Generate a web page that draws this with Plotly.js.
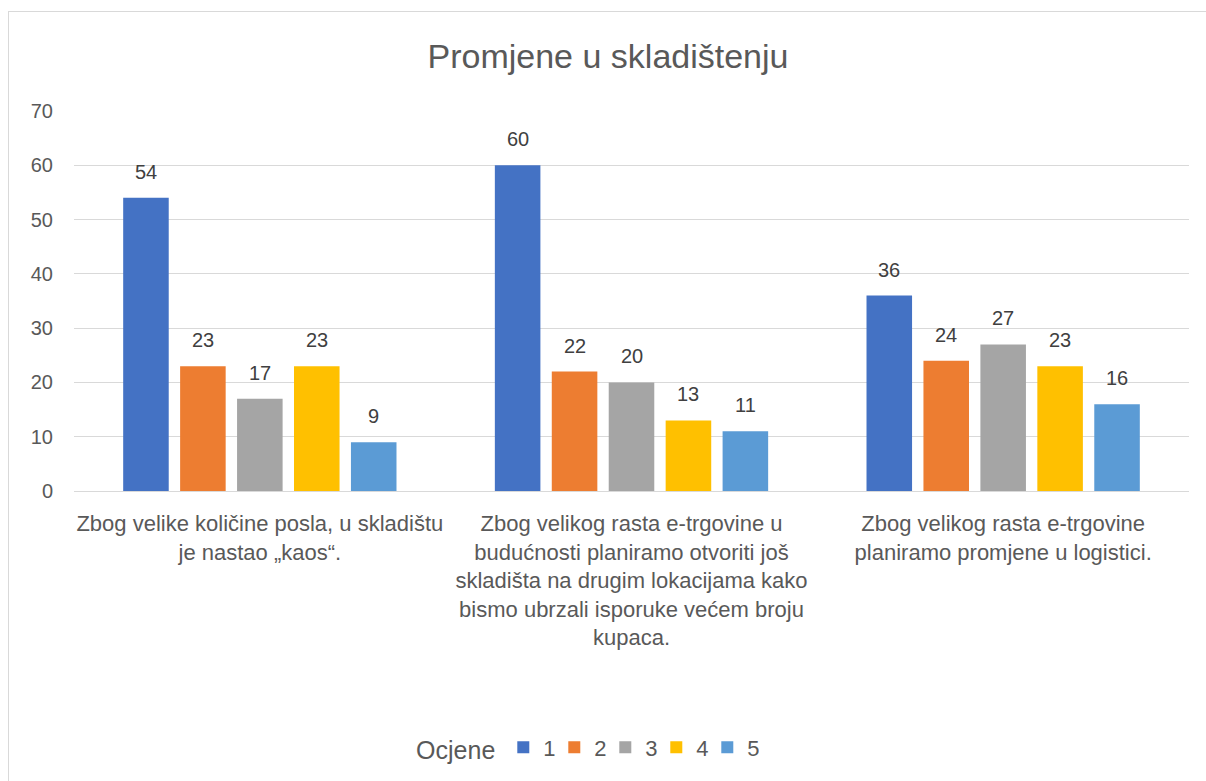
<!DOCTYPE html>
<html><head><meta charset="utf-8">
<script src="https://cdn.plot.ly/plotly-3.0.1.min.js"></script>
<style>
html,body{margin:0;padding:0;background:#fff;overflow:hidden}
#frame{position:absolute;left:8px;top:11px;width:1210px;height:780px;border:1px solid #d9d9d9;}
#chart{width:1198px;height:770px}
</style></head>
<body><div id="frame"><div id="chart"></div></div>
<script>
const categories = [
  "Zbog velike količine posla, u skladištu<br>je nastao „kaos“.",
  "Zbog velikog rasta e-trgovine u<br>budućnosti planiramo otvoriti još<br>skladišta na drugim lokacijama kako<br>bismo ubrzali isporuke većem broju<br>kupaca.",
  "Zbog velikog rasta e-trgovine<br>planiramo promjene u logistici."
];
const seriesNames = ["1","2","3","4","5"];
const ocjena1 = [54, 60, 36];
const ocjena2 = [23, 22, 24];
const ocjena3 = [17, 20, 27];
const ocjena4 = [23, 13, 23];
const ocjena5 = [9, 11, 16];
const seriesValues = [ocjena1, ocjena2, ocjena3, ocjena4, ocjena5];
const colors = ["#4472C4","#ED7D31","#A5A5A5","#FFC000","#5B9BD5"];
const yTicks = [0,10,20,30,40,50,60,70];

const font = "Liberation Sans, Arial, sans-serif";
const bargap = 0.234;
const n = seriesNames.length;
const slot = (1 - bargap) / n;

const xIdx = categories.map((_, i) => i);
const traces = seriesValues.map((vals, s) => ({
  type: "bar",
  name: seriesNames[s],
  x: xIdx,
  y: vals,
  marker: {color: colors[s]},
  hoverinfo: "y"
}));

const annotations = [];
seriesValues.forEach((vals, s) => {
  vals.forEach((v, c) => {
    annotations.push({
      x: c + (s - (n - 1) / 2) * slot,
      y: v, xref: "x", yref: "y",
      text: String(v), showarrow: false,
      yanchor: "bottom", yshift: 13,
      font: {family: font, size: 20, color: "#404040"}
    });
  });
});

const layout = {
  width: 1198, height: 770,
  margin: {l: 65, r: 18, t: 99, b: 291},
  paper_bgcolor: "#fff", plot_bgcolor: "#fff",
  title: {text: "Promjene u skladištenju", x: 0.5, xanchor: "center", y: 0.943, yanchor: "middle",
          font: {family: font, size: 34, color: "#595959"}},
  barmode: "group",
  bargap: bargap,
  bargroupgap: 0.2,
  xaxis: {
    tickmode: "array", tickvals: xIdx, ticktext: categories,
    range: [-0.5, 2.5], showgrid: false, zeroline: false, showline: false,
    ticks: "", ticklabelstandoff: 17,
    tickfont: {family: font, size: 22, color: "#595959"}
  },
  yaxis: {
    range: [0, 70], tickmode: "array", tickvals: yTicks,
    showgrid: true, gridcolor: "#d9d9d9", gridwidth: 1,
    zeroline: true, zerolinecolor: "#d9d9d9", zerolinewidth: 1,
    showline: false, ticks: "", ticklabelstandoff: 20,
    tickfont: {family: font, size: 20, color: "#595959"}
  },
  showlegend: true,
  legend: {
    orientation: "h", x: 0.305, xanchor: "left", y: -0.676, yanchor: "middle",
    title: {text: "Ocjene", side: "left", font: {family: font, size: 25, color: "#595959"}},
    font: {family: font, size: 22, color: "#595959"},
    itemwidth: 30, entrywidth: 6, entrywidthmode: "pixels", traceorder: "normal"
  },
  annotations: annotations
};

Plotly.newPlot("chart", traces, layout, {displayModeBar: false, staticPlot: true});
</script>
</body></html>
